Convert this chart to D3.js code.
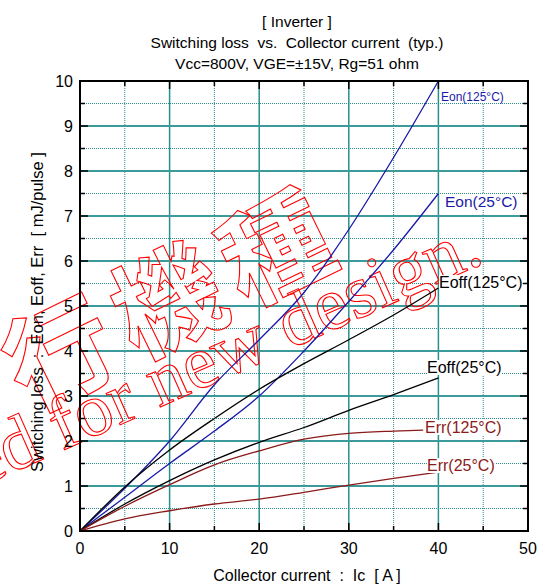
<!DOCTYPE html>
<html><head><meta charset="utf-8">
<script src="https://cdn.jsdelivr.net/npm/d3@7"></script>
<style>body{margin:0;background:#fff}svg{display:block;font-family:Arial,"Liberation Sans",sans-serif}text{white-space:pre}</style>
</head><body><svg id="c" width="537" height="585"></svg>
<script>
const titleLines = ["[ Inverter ]", "Switching loss  vs.  Collector current  (typ.)", "Vcc=800V, VGE=±15V, Rg=51 ohm"];
const xLabel = "Collector current  :  Ic  [ A ]";
const yLabel = "Switching loss  :  Eon, Eoff, Err  [ mJ/pulse ]";
const xTicks = [0,10,20,30,40,50];
const yTicks = [0,1,2,3,4,5,6,7,8,9,10];
const ic = [0,5,10,15,20,25,30,35,40];
const eon125 = [0,0.95,2.0,3.25,4.25,5.3,6.7,8.3,10.0];
const eon25  = [0,0.75,1.5,2.22,3.0,4.0,5.1,6.25,7.5];
const eoff125= [0,0.98,1.8,2.5,3.15,3.72,4.25,4.8,5.4];
const eoff25 = [0,0.6,1.12,1.58,1.97,2.3,2.68,3.03,3.4];
const err125x= [0,5,10,15,20,25,30,35,38.3];
const err125 = [0,0.55,1.03,1.47,1.78,2.04,2.17,2.22,2.24];
const err25  = [0,0.27,0.45,0.6,0.71,0.86,1.02,1.17,1.31];
const seriesNames = ["Eon(125°C)","Eon(25°C)","Eoff(125°C)","Eoff(25°C)","Err(125°C)","Err(25°C)"];
const watermark = ["移行機種", "Not recommended for new design."];

const svg = d3.select("#c");
const x = d3.scaleLinear().domain([0,50]).range([80,528]);
const y = d3.scaleLinear().domain([0,10]).range([531,81]);
const teal = "#2a8e8e";

// grid
const g = svg.append("g");
g.selectAll(".vmin").data(d3.range(5,50,10)).join("line")
 .attr("x1",d=>x(d)).attr("x2",d=>x(d)).attr("y1",y(0)).attr("y2",y(10))
 .attr("stroke",teal).attr("stroke-width",1).attr("stroke-dasharray","1,1");
g.selectAll(".hmin").data(d3.range(0.5,10,1)).join("line")
 .attr("y1",d=>y(d)).attr("y2",d=>y(d)).attr("x1",x(0)).attr("x2",x(50))
 .attr("stroke",teal).attr("stroke-width",1).attr("stroke-dasharray","1,1");
g.selectAll(".vmaj").data([10,20,30,40]).join("line")
 .attr("x1",d=>x(d)).attr("x2",d=>x(d)).attr("y1",y(0)).attr("y2",y(10))
 .attr("stroke",teal).attr("stroke-width",1.5);
g.selectAll(".hmaj").data(d3.range(1,10)).join("line")
 .attr("y1",d=>y(d)).attr("y2",d=>y(d)).attr("x1",x(0)).attr("x2",x(50))
 .attr("stroke","#3c9a9a").attr("stroke-width",1.8);

// watermark
const wm = svg.append("g").attr("fill","none").attr("stroke","#ff0000").attr("stroke-width",1.1);
wm.append("g").attr("transform","translate(167,300) rotate(-26)")
 .append("text").text(watermark[0]).attr("x",-294).attr("y",41)
 .attr("font-family","'Noto Sans CJK JP'").attr("font-weight","bold").attr("font-size",108)
 .attr("letter-spacing",12);
wm.append("g").attr("transform","translate(486,262) rotate(-24)")
 .append("text").text(watermark[1]).attr("text-anchor","end")
 .attr("font-family","'Liberation Serif','DejaVu Serif',serif").attr("font-size",75);

// curves
const line = d3.line().x(d=>x(d[0])).y(d=>y(d[1])).curve(d3.curveMonotoneX);
const curves = [
 {xs:ic, ys:eon125, c:"#1a1aa8"},
 {xs:ic, ys:eon25, c:"#1a1aa8"},
 {xs:ic, ys:eoff125, c:"#000"},
 {xs:ic, ys:eoff25, c:"#000"},
 {xs:err125x, ys:err125, c:"#8b1a1a"},
 {xs:ic, ys:err25, c:"#8b1a1a"}
];
svg.append("g").selectAll("path").data(curves).join("path")
 .attr("d",d=>line(d.xs.map((v,i)=>[v,d.ys[i]])))
 .attr("fill","none").attr("stroke",d=>d.c).attr("stroke-width",1.3);

// labels with white background
const labs = [
 {t:seriesNames[0], px:441, py:101, fs:12, c:"#1a1aa8"},
 {t:seriesNames[1], px:445, py:207, fs:15.5, c:"#1a1aa8"},
 {t:seriesNames[2], px:439, py:288, fs:16, c:"#000"},
 {t:seriesNames[3], px:427, py:373, fs:16, c:"#000"},
 {t:seriesNames[4], px:425, py:433, fs:16, c:"#8b1a1a"},
 {t:seriesNames[5], px:427, py:471, fs:16, c:"#8b1a1a"}
];
const lg = svg.append("g");
labs.forEach(l=>{
  const t = lg.append("text").text(l.t).attr("x",l.px).attr("y",l.py).attr("font-size",l.fs).attr("fill",l.c);
  const b = t.node().getBBox();
  lg.insert("rect","text").attr("x",b.x).attr("y",b.y+1).attr("width",b.width).attr("height",b.height-2).attr("fill","#fff");
});

// ticks inward on all sides
const tk = svg.append("g").attr("stroke","#000").attr("stroke-width",1.5);
d3.range(0,51,5).forEach(v=>{
  const L = v%10===0?8:5;
  tk.append("line").attr("x1",x(v)).attr("x2",x(v)).attr("y1",y(0)).attr("y2",y(0)-L);
  tk.append("line").attr("x1",x(v)).attr("x2",x(v)).attr("y1",y(10)).attr("y2",y(10)+L);
});
d3.range(0,10.01,0.5).forEach(v=>{
  const L = Math.abs(v-Math.round(v))<0.01?8:5;
  tk.append("line").attr("y1",y(v)).attr("y2",y(v)).attr("x1",x(0)).attr("x2",x(0)+L);
  tk.append("line").attr("y1",y(v)).attr("y2",y(v)).attr("x1",x(50)).attr("x2",x(50)-L);
});
svg.append("rect").attr("x",x(0)).attr("y",y(10)).attr("width",x(50)-x(0)).attr("height",y(0)-y(10))
 .attr("fill","none").attr("stroke","#000").attr("stroke-width",2);

// tick labels
svg.append("g").selectAll("text").data(xTicks).join("text").text(d=>d)
 .attr("x",d=>x(d)).attr("y",554).attr("text-anchor","middle").attr("font-size",16).attr("fill","#000");
svg.append("g").selectAll("text").data(yTicks).join("text").text(d=>d)
 .attr("x",73).attr("y",d=>y(d)+6).attr("text-anchor","end").attr("font-size",16).attr("fill","#000");

// titles
svg.append("g").selectAll("text").data(titleLines).join("text").text(d=>d)
 .attr("x",297).attr("y",(d,i)=>27+i*21).attr("text-anchor","middle").attr("font-size",15.5).attr("fill","#000");
svg.append("text").text(xLabel).attr("x",307).attr("y",581).attr("text-anchor","middle").attr("font-size",16);
svg.append("text").text(yLabel).attr("transform","translate(43,312) rotate(-90)").attr("text-anchor","middle").attr("font-size",16.5);
</script></body></html>
